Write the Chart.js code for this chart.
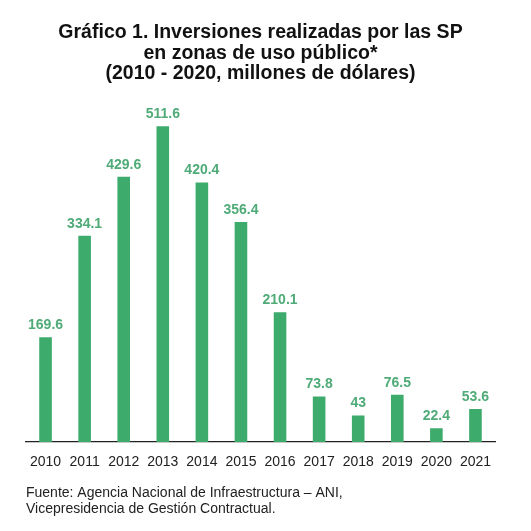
<!DOCTYPE html>
<html><head><meta charset="utf-8">
<script src="https://cdn.jsdelivr.net/npm/chart.js@4/dist/chart.umd.min.js"></script>
<style>html,body{margin:0;padding:0;background:#fff;}#wrap{width:531px;height:531px;position:relative;}</style>
</head><body>
<div id="wrap"><canvas id="c" width="531" height="531"></canvas></div>
<script>
const years = ["2010","2011","2012","2013","2014","2015","2016","2017","2018","2019","2020","2021"];
const investments = [169.6, 334.1, 429.6, 511.6, 420.4, 356.4, 210.1, 73.8, 43, 76.5, 22.4, 53.6];
const titleLines = ["Gráfico 1. Inversiones realizadas por las SP", "en zonas de uso público*", "(2010 - 2020, millones de dólares)"];
const sourceLines = ["Fuente: Agencia Nacional de Infraestructura – ANI,", "Vicepresidencia de Gestión Contractual."];

const FONT = "'Liberation Sans', Arial, sans-serif";
const valueLabels = {
  id: 'valueLabels',
  afterDatasetsDraw(chart) {
    const ctx = chart.ctx;
    const meta = chart.getDatasetMeta(0);
    ctx.save();
    ctx.font = "bold 14px " + FONT;
    ctx.fillStyle = '#4fab77';
    ctx.textAlign = 'center';
    ctx.textBaseline = 'alphabetic';
    meta.data.forEach((bar, i) => {
      ctx.fillText(String(investments[i]), bar.x, bar.y - 8);
    });
    ctx.restore();
  }
};

new Chart(document.getElementById('c'), {
  type: 'bar',
  data: {
    labels: years,
    datasets: [{
      data: investments,
      backgroundColor: '#3dab6c',
      borderWidth: 0,
      barPercentage: 0.62,
      categoryPercentage: 0.52
    }]
  },
  options: {
    responsive: false,
    animation: false,
    devicePixelRatio: 1,
    layout: { padding: { left: 26, right: 36, top: 0, bottom: 0 } },
    plugins: {
      legend: { display: false },
      tooltip: { enabled: false },
      title: {
        display: true,
        text: titleLines,
        color: '#111',
        font: { family: FONT, size: 19.5, weight: 'bold', lineHeight: 1.03 },
        padding: { top: 23, bottom: 13 }
      },
      subtitle: {
        display: true,
        position: 'bottom',
        align: 'start',
        text: sourceLines,
        color: '#222',
        font: { family: FONT, size: 14, weight: 'normal', lineHeight: 1.15 },
        padding: { top: 2, bottom: 14 }
      }
    },
    scales: {
      x: {
        grid: { display: false, drawTicks: false },
        border: { display: true, color: '#222', width: 1.3 },
        ticks: { color: '#222', font: { family: FONT, size: 14 }, padding: 12, maxRotation: 0 }
      },
      y: {
        display: false,
        min: 0,
        max: 560
      }
    }
  },
  plugins: [valueLabels]
});
</script>
</body></html>
